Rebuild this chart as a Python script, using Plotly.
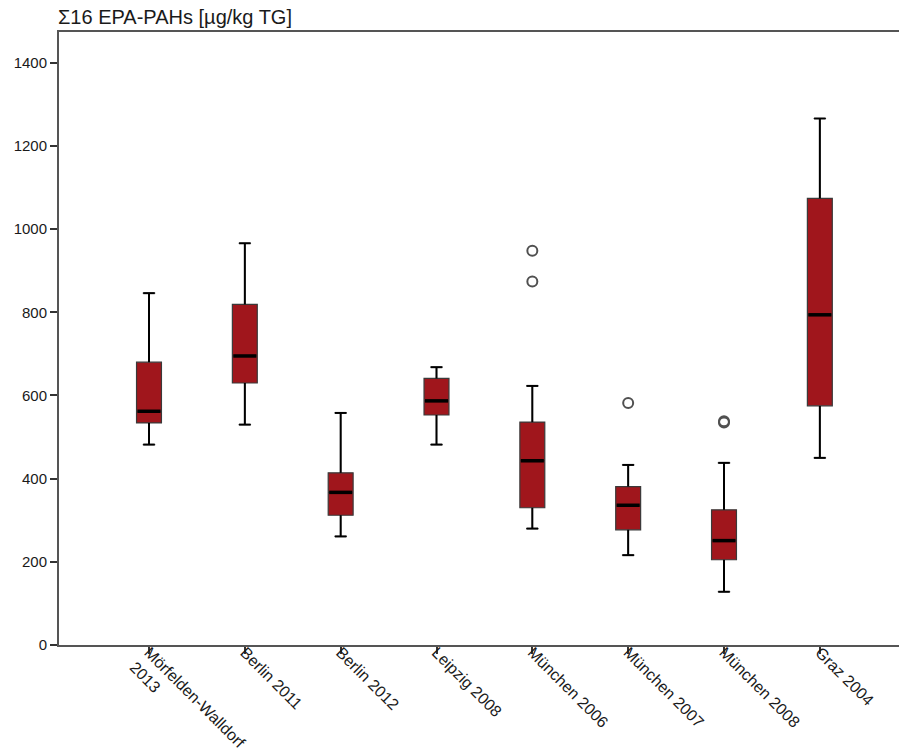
import plotly.graph_objects as go

# Sampling sites / years
categories = ["Mörfelden-Walldorf<br>2013", "Berlin 2011", "Berlin 2012", "Leipzig 2008",
              "München 2006", "München 2007", "München 2008", "Graz 2004"]

# Box statistics, Σ16 EPA-PAHs [µg/kg TG]
upper_whisker = [846, 966, 558, 668, 623, 433, 438, 1266]
q3 = [680, 819, 414, 641, 536, 381, 325, 1074]
median = [562, 695, 367, 587, 443, 336, 251, 794]
q1 = [534, 630, 312, 553, 330, 277, 205, 575]
lower_whisker = [482, 530, 261, 482, 280, 216, 128, 450]

# Outliers (category index, value)
outlier_idx = [4, 4, 5, 6, 6]
outlier_val = [948, 874, 582, 535, 538]

pos = list(range(len(categories)))
BOX_W = 0.26
CAP_W = 0.12
FILL = "#A0161C"

fig = go.Figure()

fig.add_trace(go.Box(
    x=pos, q1=q1, median=median, q3=q3,
    lowerfence=lower_whisker, upperfence=upper_whisker,
    width=BOX_W, fillcolor=FILL,
    line=dict(color="#3a3a3a", width=1.2),
    boxpoints=False, hoverinfo="skip", showlegend=False,
))

# Whiskers with end caps
wx, wy = [], []
for i, lo, a, b, hi in zip(pos, lower_whisker, q1, q3, upper_whisker):
    wx += [i, i, None, i, i, None,
           i - CAP_W / 2, i + CAP_W / 2, None, i - CAP_W / 2, i + CAP_W / 2, None]
    wy += [b, hi, None, a, lo, None, hi, hi, None, lo, lo, None]
fig.add_trace(go.Scatter(x=wx, y=wy, mode="lines",
                         line=dict(color="black", width=2),
                         hoverinfo="skip", showlegend=False))

# Heavy median bars
mx, my = [], []
for i, m in zip(pos, median):
    mx += [i - BOX_W / 2 + 0.01, i + BOX_W / 2 - 0.01, None]
    my += [m, m, None]
fig.add_trace(go.Scatter(x=mx, y=my, mode="lines",
                         line=dict(color="black", width=3.5),
                         hoverinfo="skip", showlegend=False))

# Outlier circles
fig.add_trace(go.Scatter(
    x=outlier_idx, y=outlier_val, mode="markers",
    marker=dict(symbol="circle-open", size=10, color="#505050",
                line=dict(width=2, color="#505050")),
    hoverinfo="skip", showlegend=False,
))

font_family = "Liberation Sans, Arial, sans-serif"

fig.update_layout(
    width=899, height=755,
    margin=dict(l=59, r=0, t=32, b=110),
    paper_bgcolor="white", plot_bgcolor="white",
    font=dict(family=font_family, color="#1a1a1a", size=15),
    xaxis=dict(
        range=[-0.939, 7.826], automargin=False,
        tickmode="array", tickvals=pos, ticktext=categories,
        tickangle=45, ticks="outside", ticklen=7, tickwidth=2, tickcolor="#333",
        ticklabelstandoff=-17,
        showline=True, linecolor="#555", linewidth=2, mirror=True,
        showgrid=False, zeroline=False,
        tickfont=dict(size=16),
    ),
    yaxis=dict(
        range=[0, 1474], automargin=False,
        tickmode="array", tickvals=[0, 200, 400, 600, 800, 1000, 1200, 1400],
        ticks="outside", ticklen=7, tickwidth=2, tickcolor="#333",
        showline=True, linecolor="#555", linewidth=2,
        showgrid=False, zeroline=False,
        tickfont=dict(size=15),
    ),
    annotations=[dict(
        text="Σ16 EPA-PAHs [µg/kg TG]",
        xref="paper", yref="paper", x=0, y=1,
        xanchor="left", yanchor="bottom", xshift=-3, yshift=2,
        showarrow=False, font=dict(size=20, family=font_family, color="#1a1a1a"),
    )],
)

fig.write_html("out.html")
